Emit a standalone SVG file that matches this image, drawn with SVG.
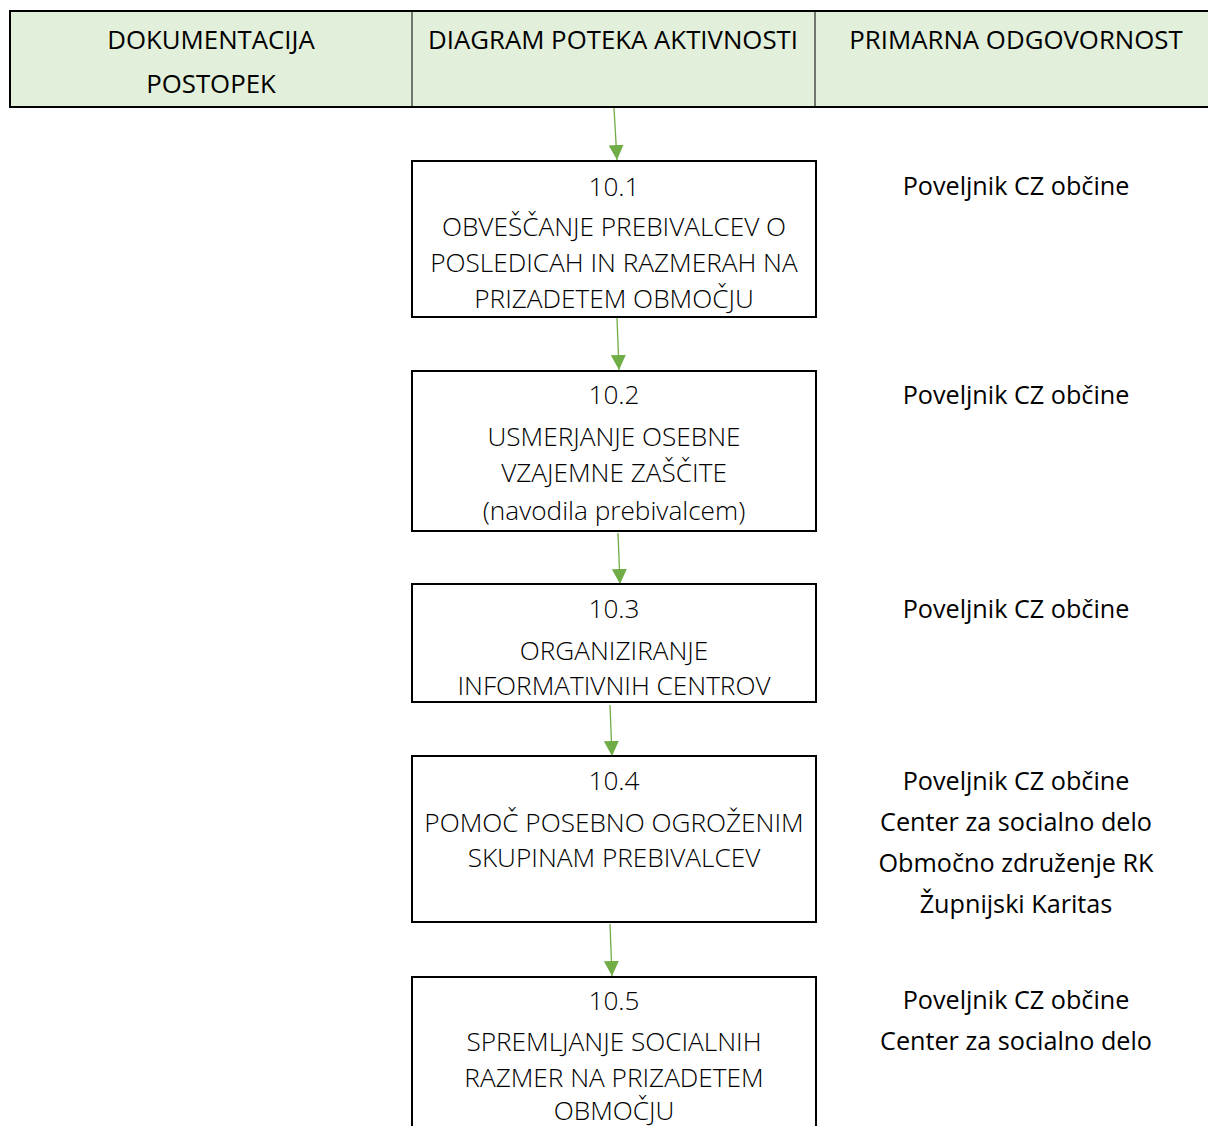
<svg xmlns="http://www.w3.org/2000/svg" width="1208" height="1126" viewBox="0 0 1208 1126">
<style>
.hdr{font-family:"Open Sans","Liberation Sans",sans-serif;font-size:25.8px;fill:#000;text-anchor:middle}
.box{fill:#fff;stroke:#000;stroke-width:2}
.bt{font-family:"Open Sans","Liberation Sans",sans-serif;font-weight:300;font-size:26.2px;fill:#000;text-anchor:middle}
.rt{font-family:"Open Sans","Liberation Sans",sans-serif;font-size:25.2px;fill:#000;text-anchor:middle}
.conn{stroke:#70AD47;stroke-width:1.3;fill:none}
</style>
<defs>
<marker id="ah" viewBox="0 0 10 10" refX="10" refY="5" markerUnits="userSpaceOnUse" markerWidth="15" markerHeight="15" orient="auto">
<path d="M0,0 L10,5 L0,10 Z" fill="#70AD47"/>
</marker>
</defs>
<rect width="1208" height="1126" fill="#fff"/>
<g id="header">
<rect x="10" y="11" width="1210" height="96" fill="#E2EFDA" stroke="#000" stroke-width="2"/>
<line x1="412" y1="11" x2="412" y2="107" stroke="#000" stroke-width="1"/>
<line x1="815" y1="11" x2="815" y2="107" stroke="#000" stroke-width="1"/>
<text class="hdr" x="211" y="49">DOKUMENTACIJA</text>
<text class="hdr" x="211" y="93">POSTOPEK</text>
<text class="hdr" x="613" y="49">DIAGRAM POTEKA AKTIVNOSTI</text>
<text class="hdr" x="1016" y="49">PRIMARNA ODGOVORNOST</text>
</g>
<g id="connectors">
<line class="conn" x1="614" y1="108" x2="617" y2="160" marker-end="url(#ah)"/>
<line class="conn" x1="617" y1="318" x2="619" y2="370" marker-end="url(#ah)"/>
<line class="conn" x1="618" y1="533" x2="620" y2="584" marker-end="url(#ah)"/>
<line class="conn" x1="610" y1="705" x2="612" y2="756" marker-end="url(#ah)"/>
<line class="conn" x1="610" y1="924" x2="612" y2="976" marker-end="url(#ah)"/>
</g>
<g id="n10_1">
<rect class="box" x="412" y="161" width="404" height="156"/>
<text class="bt" x="614" y="196">10.1</text>
<text class="bt" x="614" y="236">OBVEŠČANJE PREBIVALCEV O</text>
<text class="bt" x="614" y="272">POSLEDICAH IN RAZMERAH NA</text>
<text class="bt" x="614" y="308">PRIZADETEM OBMOČJU</text>
</g>
<g id="n10_2">
<rect class="box" x="412" y="371" width="404" height="160"/>
<text class="bt" x="614" y="404">10.2</text>
<text class="bt" x="614" y="446">USMERJANJE OSEBNE</text>
<text class="bt" x="614" y="482">VZAJEMNE ZAŠČITE</text>
<text class="bt" x="614" y="520">(navodila prebivalcem)</text>
</g>
<g id="n10_3">
<rect class="box" x="412" y="584" width="404" height="118"/>
<text class="bt" x="614" y="618">10.3</text>
<text class="bt" x="614" y="660">ORGANIZIRANJE</text>
<text class="bt" x="614" y="695">INFORMATIVNIH CENTROV</text>
</g>
<g id="n10_4">
<rect class="box" x="412" y="756" width="404" height="166"/>
<text class="bt" x="614" y="790">10.4</text>
<text class="bt" x="614" y="832">POMOČ POSEBNO OGROŽENIM</text>
<text class="bt" x="614" y="867">SKUPINAM PREBIVALCEV</text>
</g>
<g id="n10_5">
<rect class="box" x="412" y="977" width="404" height="160"/>
<text class="bt" x="614" y="1010">10.5</text>
<text class="bt" x="614" y="1051">SPREMLJANJE SOCIALNIH</text>
<text class="bt" x="614" y="1087">RAZMER NA PRIZADETEM</text>
<text class="bt" x="614" y="1120">OBMOČJU</text>
</g>
<g id="responsibility">
<text class="rt" x="1016" y="195">Poveljnik CZ občine</text>
<text class="rt" x="1016" y="404">Poveljnik CZ občine</text>
<text class="rt" x="1016" y="618">Poveljnik CZ občine</text>
<text class="rt" x="1016" y="790">Poveljnik CZ občine</text>
<text class="rt" x="1016" y="831">Center za socialno delo</text>
<text class="rt" x="1016" y="872">Območno združenje RK</text>
<text class="rt" x="1016" y="913">Župnijski Karitas</text>
<text class="rt" x="1016" y="1009">Poveljnik CZ občine</text>
<text class="rt" x="1016" y="1050">Center za socialno delo</text>
</g>
</svg>
